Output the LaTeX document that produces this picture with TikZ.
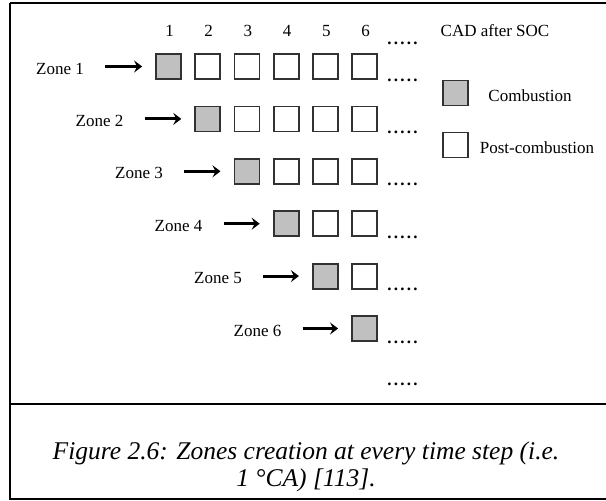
\documentclass[tikz,border=0pt]{standalone}
\usepackage{fontspec}
\setmainfont{Liberation Serif}
\usetikzlibrary{arrows.meta}
\definecolor{zonegray}{RGB}{192,192,192}
\definecolor{zoneedge}{RGB}{50,50,50}
\newcommand{\dotrow}{\textbf{.\kern2.2pt.\kern2.2pt.\kern2.2pt.\kern2.2pt.}}
\begin{document}
\begin{tikzpicture}[x=1pt,y=-1pt,
  cell/.style={draw=zoneedge,line width=1.8pt,minimum size=25pt,inner sep=0pt,fill=white},
  burn/.style={cell,fill=zonegray},
  lbl/.style={inner sep=0pt,font=\fontsize{17}{20}\selectfont},
  dots/.style={inner sep=0pt,anchor=base,font=\fontsize{17}{20}\selectfont},
  zonearrow/.style={line width=3pt,-{Stealth[length=8pt,width=12pt,inset=3pt]},shorten <=21pt,shorten >=13pt},
  frame/.style={line width=2.2pt}]
\useasboundingbox (0,0) rectangle (606,501);
% outer frame and caption divider
\draw[frame] (10,3) -- (610,3);
\draw[frame] (10,3) -- (10,499) -- (610,499);
\draw[frame] (10,404) -- (610,404);
% column numbers
\foreach \k in {1,...,6}{
  \node[lbl] (n\k) at ({169.5+39.2*(\k-1)},31) {\k};
}
\node[dots] (dtop) at (402.5,44) {\dotrow};
\node[lbl] (cad) at (495,31) {CAD after SOC};
% zones: one row per zone, combustion cell on the diagonal
\foreach \r in {1,...,6}{
  \pgfmathsetmacro{\yy}{66.5+52.4*(\r-1)}
  \foreach \k in {\r,...,6}{
    \ifnum\k=\r
      \node[burn] (s\r\k) at ({168.5+39.2*(\k-1)},\yy) {};
    \else
      \node[cell] (s\r\k) at ({168.5+39.2*(\k-1)},\yy) {};
    \fi
  }
  \node[lbl] (z\r) at ({60+39.5*(\r-1)},\yy+2) {Zone \r};
  \draw[zonearrow] (z\r.east |- s\r\r.west) -- (s\r\r.west);
  \node[dots] (d\r) at (402.5,\yy+14.5) {\dotrow};
}
\node[dots] (dend) at (402.5,385) {\dotrow};
% legend
\node[burn] (lgburn) at (455.5,93) {};
\node[lbl] (lgburntxt) at (530,96) {Combustion};
\node[cell] (lgpost) at (455.5,145) {};
\node[lbl] (lgposttxt) at (537,148) {Post-combustion};
% caption
\node[inner sep=0pt,align=center,font=\fontsize{25.5}{27}\selectfont\itshape] (cap) at (306,467)
  {Figure 2.6: Zones creation at every time step (i.e.\\ 1 °CA) [113].};
\end{tikzpicture}
\end{document}
